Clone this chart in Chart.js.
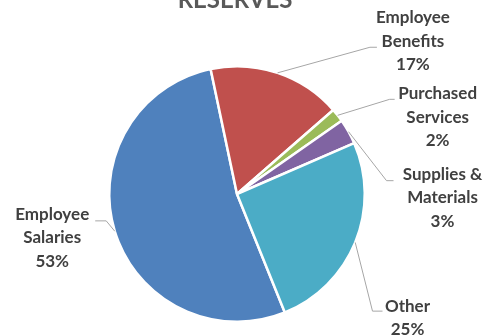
<!DOCTYPE html>
<html><head><meta charset="utf-8">
<script src="https://cdn.jsdelivr.net/npm/chart.js@4"></script>
<style>html,body{margin:0;padding:0;background:#fff;overflow:hidden}canvas{display:block}</style>
</head><body>
<canvas id="c" width="489" height="336"></canvas>
<script>
// ---- data ----
const chartTitle = 'RESERVES';
const categories = [['Employee','Salaries'],['Employee','Benefits'],['Purchased','Services'],['Supplies &','Materials'],['Other']];
const values = [52.8, 16.9, 1.7, 3.2, 25.4];
const colors = ['#4F81BD','#C0504D','#9BBB59','#8064A2','#4BACC6'];

// ---- label layout (offsets from each slice's outer mid-point) ----
const labelLayout = [
  {label:[-62.6, 6.6],  elbow:[-8.6,-10.4], end:[-19.6,-10.4]},
  {label:[135.4,-31.6], elbow:[92.4,-25.6], end:[99.4,-25.6]},
  {label:[100, 2],      elbow:[52,-16],     end:[57,-16]},
  {label:[94, 66],      elbow:[38, 49],     end:[45, 49]},
  {label:[52.3, 75.5],  elbow:[17.3, 68.7], end:[27.3, 68.7]}
];
const FONT = 'Lato, "Open Sans", sans-serif';

const labelPlugin = {
  id: 'outLabels',
  afterDraw(chart) {
    const ctx = chart.ctx;
    const meta = chart.getDatasetMeta(0);
    const data = chart.data.datasets[0].data;
    const total = data.reduce((a,b)=>a+b,0);
    ctx.save();
    meta.data.forEach((arc, i) => {
      const p = arc.getProps(['x','y','startAngle','endAngle','outerRadius'], true);
      const mid = (p.startAngle + p.endAngle) / 2;
      const ax = p.x + Math.cos(mid) * p.outerRadius;
      const ay = p.y + Math.sin(mid) * p.outerRadius;
      const L = labelLayout[i];
      ctx.strokeStyle = '#A6A6A6';
      ctx.lineWidth = 1;
      ctx.beginPath();
      ctx.moveTo(ax, ay);
      ctx.lineTo(ax + L.elbow[0], ay + L.elbow[1]);
      ctx.lineTo(ax + L.end[0], ay + L.end[1]);
      ctx.stroke();
      const lines = [].concat(chart.data.labels[i], Math.round(data[i] / total * 100) + '%');
      const lh = 23.5;
      const cx = ax + L.label[0], cy = ay + L.label[1];
      ctx.fillStyle = '#404040';
      ctx.font = 'bold 17px ' + FONT;
      ctx.textAlign = 'center';
      ctx.textBaseline = 'middle';
      lines.forEach((t, k) => {
        ctx.fillText(t, cx, cy + (k - (lines.length - 1) / 2) * lh);
      });
    });
    // title (clipped at the top like the reference)
    ctx.fillStyle = '#595959';
    ctx.font = 'bold 24px ' + FONT;
    ctx.textAlign = 'center';
    ctx.textBaseline = 'alphabetic';
    ctx.fillText(chartTitle, 235, 8);
    ctx.restore();
  }
};

new Chart(document.getElementById('c'), {
  type: 'pie',
  data: {
    labels: categories,
    datasets: [{
      data: values,
      backgroundColor: colors,
      borderColor: '#FFFFFF',
      borderWidth: 2.5
    }]
  },
  options: {
    responsive: false,
    animation: false,
    rotation: 158,
    layout: { padding: { top: 65, bottom: 13, left: 108, right: 123 } },
    plugins: { legend: { display: false }, tooltip: { enabled: false }, title: { display: false } }
  },
  plugins: [labelPlugin]
});
</script>
</body></html>
